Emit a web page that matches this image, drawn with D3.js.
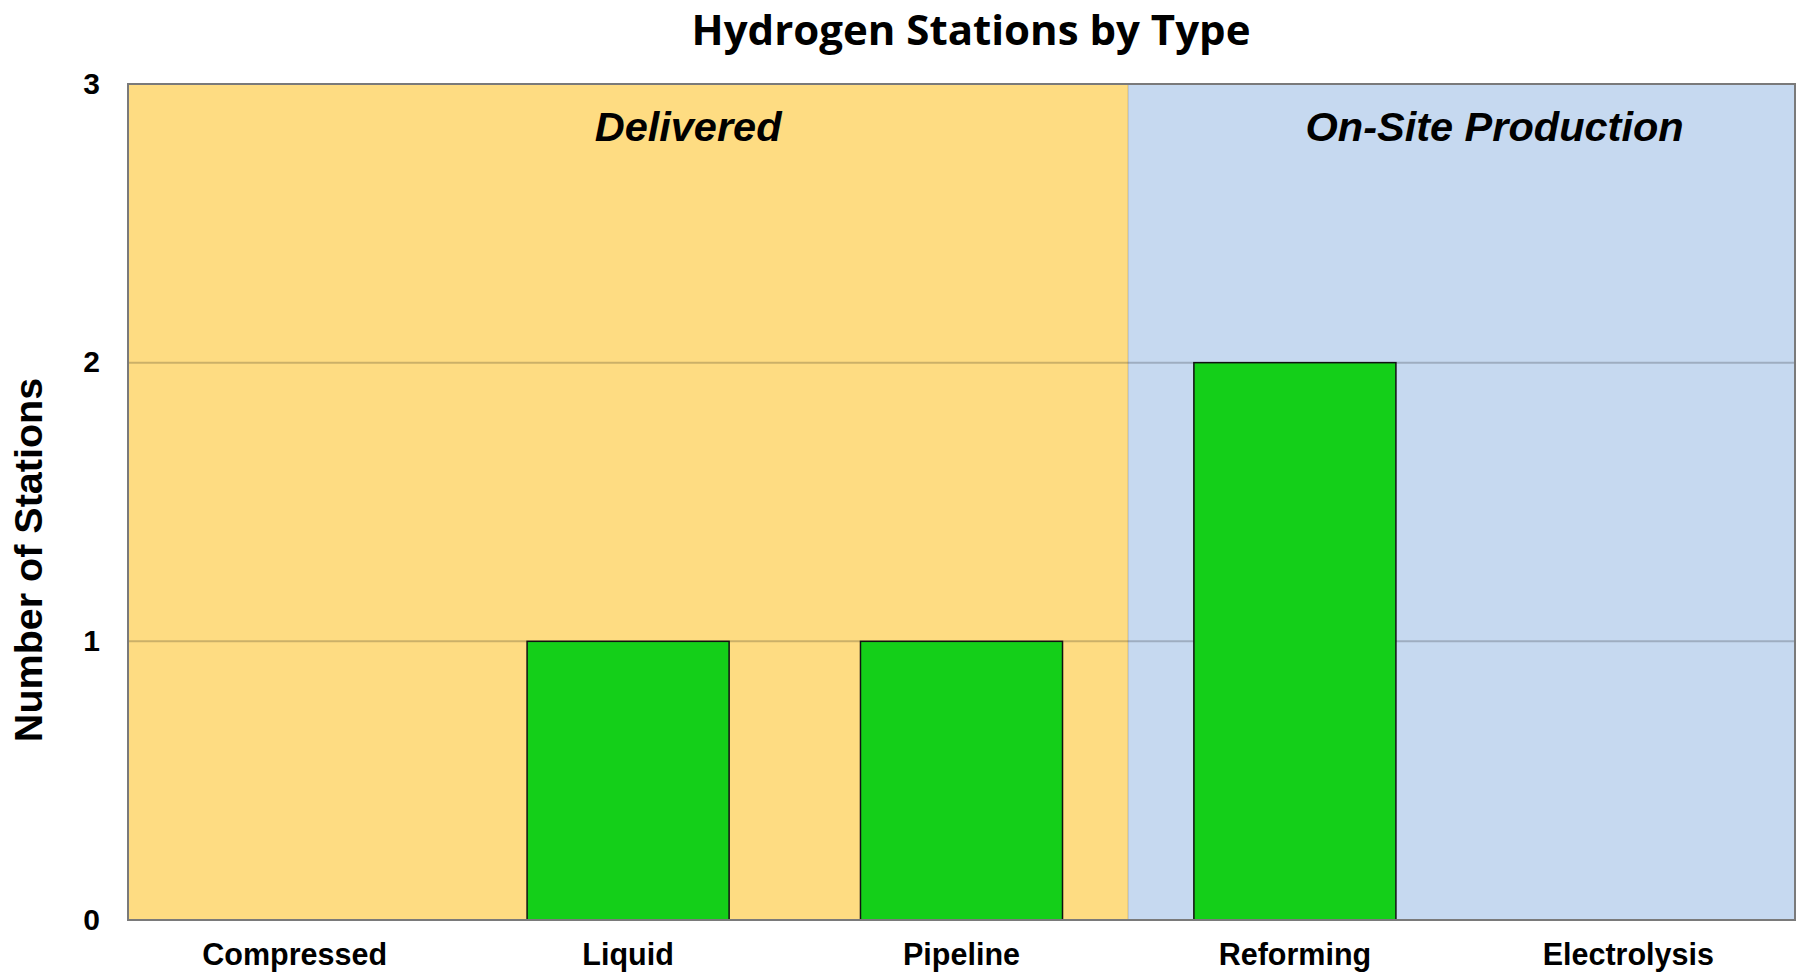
<!DOCTYPE html>
<html>
<head>
<meta charset="utf-8">
<script src="https://cdn.jsdelivr.net/npm/d3@7"></script>
<style>
  body { margin: 0; background: #fff; }
  svg { display: block; }
</style>
</head>
<body>
<div id="vis"></div>
<script>
// chart data
let categories = ['Compressed', 'Liquid', 'Pipeline', 'Reforming', 'Electrolysis'];
let stations = [0, 1, 1, 2, 0];
let yTicks = [0, 1, 2, 3];

// background groups (which categories sit in which shaded region)
let groupNames = ['Delivered', 'On-Site Production'];
let groupMembers = [['Compressed', 'Liquid', 'Pipeline'], ['Reforming', 'Electrolysis']];
let groupColors = ['#FEDC82', '#C6D9F0'];
let groupLabelShift = [60, 33]; // labels sit a little right of the region centre

let W = 1800, H = 976;
let margin = { top: 84, left: 128, right: 5, bottom: 56 },
  width = W - margin.left - margin.right,
  height = H - margin.top - margin.bottom;

let fontArial = 'Arial, "Liberation Sans", sans-serif';

let svg = d3.select('#vis')
  .append('svg')
  .attr('width', W)
  .attr('height', H);

let g = svg.append('g')
  .attr('transform', 'translate(' + margin.left + ',' + margin.top + ')');

// scales
let x = d3.scaleBand()
  .domain(categories)
  .range([0, width])
  .paddingInner(0.394)
  .paddingOuter(0.197);

// full-width band for the shaded regions and labels
let xBand = d3.scaleBand()
  .domain(categories)
  .range([0, width])
  .padding(0);

let y = d3.scaleLinear()
  .domain([0, 3])
  .range([height, 0]);

// shaded regions
groupNames.forEach(function(name, i) {
  let first = groupMembers[i][0];
  let last = groupMembers[i][groupMembers[i].length - 1];
  let x0 = xBand(first), x1 = xBand(last) + xBand.bandwidth();
  g.append('rect')
    .attr('x', x0)
    .attr('y', 0)
    .attr('width', x1 - x0)
    .attr('height', height)
    .attr('fill', groupColors[i]);
  g.append('text')
    .attr('x', (x0 + x1) / 2 + groupLabelShift[i])
    .attr('y', 57)
    .attr('text-anchor', 'middle')
    .style('font-family', fontArial)
    .style('font-weight', 'bold')
    .style('font-style', 'italic')
    .style('font-size', '41.5px')
    .text(name);
});

// boundary between regions
let split = xBand(groupMembers[1][0]);
g.append('line')
  .attr('x1', split).attr('x2', split)
  .attr('y1', 0).attr('y2', height)
  .attr('stroke', '#000')
  .attr('stroke-opacity', 0.12)
  .attr('stroke-width', 1.5);

// gridlines
g.append('g')
  .selectAll('line')
  .data(yTicks.slice(1, -1))
  .enter().append('line')
  .attr('x1', 0)
  .attr('x2', width)
  .attr('y1', function(d) { return y(d); })
  .attr('y2', function(d) { return y(d); })
  .attr('stroke', '#000')
  .attr('stroke-opacity', 0.2)
  .attr('stroke-width', 2);

// bars
let barData = categories.map(function(c, i) { return { cat: c, value: stations[i] }; })
  .filter(function(d) { return d.value > 0; });

g.append('g')
  .selectAll('rect')
  .data(barData)
  .enter().append('rect')
  .attr('x', function(d) { return x(d.cat); })
  .attr('y', function(d) { return y(d.value); })
  .attr('width', x.bandwidth())
  .attr('height', function(d) { return height - y(d.value); })
  .attr('fill', '#14CF19')
  .attr('stroke', '#111')
  .attr('stroke-width', 1.5);

// plot frame
g.append('rect')
  .attr('x', 0).attr('y', 0)
  .attr('width', width).attr('height', height)
  .attr('fill', 'none')
  .attr('stroke', '#7a7a7a')
  .attr('stroke-width', 2);

// y axis labels
let yAxis = g.append('g')
  .call(d3.axisLeft(y).tickValues(yTicks).tickFormat(d3.format('d')).tickSize(0).tickPadding(28));
yAxis.select('.domain').remove();
yAxis.selectAll('text')
  .attr('dy', '0.3em')
  .style('font-family', fontArial)
  .style('font-weight', 'bold')
  .style('font-size', '30px')
  .attr('fill', '#000');

// x axis labels
let xAxis = g.append('g')
  .attr('transform', 'translate(0,' + height + ')')
  .call(d3.axisBottom(xBand).tickSize(0).tickPadding(23));
xAxis.select('.domain').remove();
xAxis.selectAll('text')
  .style('font-family', fontArial)
  .style('font-weight', 'bold')
  .style('font-size', '30.5px')
  .attr('fill', '#000');

// y axis title
svg.append('text')
  .attr('transform', 'translate(42,560) rotate(-90)')
  .attr('text-anchor', 'middle')
  .style('font-family', fontArial)
  .style('font-weight', 'bold')
  .style('font-size', '39.5px')
  .text('Number of Stations');

// chart title
svg.append('text')
  .attr('x', 971)
  .attr('y', 45)
  .attr('text-anchor', 'middle')
  .style('font-family', '"Open Sans", sans-serif')
  .style('font-weight', 'bold')
  .style('font-size', '42px')
  .text('Hydrogen Stations by Type');
</script>
</body>
</html>
